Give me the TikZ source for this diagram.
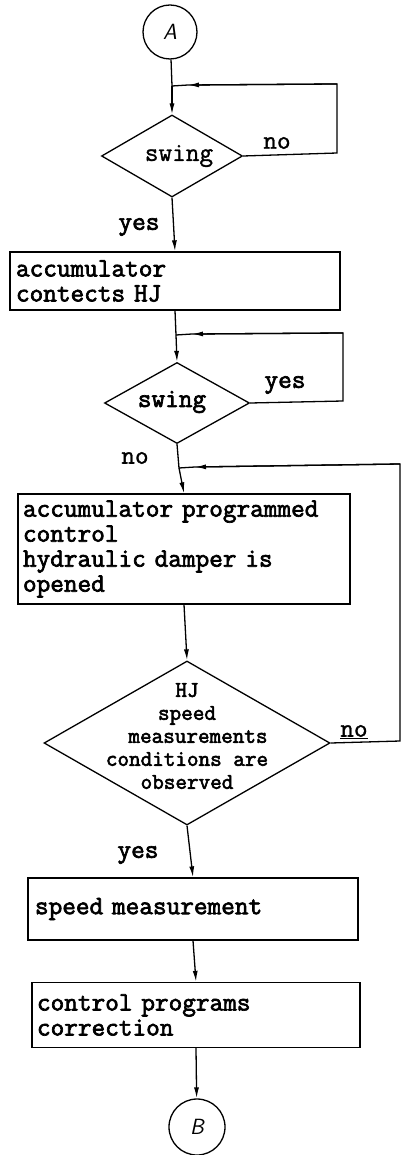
\documentclass[tikz,border=0pt]{standalone}
\usepackage{fontspec}
\newfontfamily\twb{Latin Modern Mono}[FakeBold=2.6,WordSpace={1,0,0}]
\newfontfamily\tw{Latin Modern Mono}[FakeBold=1.2,WordSpace={1,0,0}]
\usetikzlibrary{shapes.geometric,arrows.meta}
\begin{document}
\begin{tikzpicture}[x=1pt,y=-1pt,
  every path/.style={line width=1.3pt},
  tip/.style={-{Latex[length=11pt,width=5pt]}},
  boxnode/.style={draw,rectangle,inner xsep=5pt,inner ysep=0pt,align=left,
    font=\twb\fontsize{26.5}{25}\selectfont},
  dia/.style={draw,diamond,inner sep=0pt},
  dtext/.style={inner sep=0pt,align=center,font=\twb\fontsize{22.5}{23}\selectfont},
  lbl/.style={inner sep=0pt,font=\twb\fontsize{26.5}{25}\selectfont},
  lblr/.style={inner sep=0pt,font=\tw\fontsize{26.5}{25}\selectfont},
  conn/.style={draw,circle,inner sep=0pt,font=\sffamily\itshape\fontsize{22}{24}\selectfont}]
\useasboundingbox (0,0) rectangle (402,1155);

% start connector
\node[conn,minimum size=54pt] (A) at (170,32) {A};
\coordinate (m1) at (172,86);
\node[dia,minimum width=141pt,minimum height=82pt] (d1) at (172,156) {};
\node[lblr] at (179,156) {swing};
\node[lblr] at (277,143) {no};
\node[lbl] at (139,227) {yes};

\node[boxnode,minimum width=330pt,text width=318pt,minimum height=58pt] (b1) at (175,281)
  {accumulator\\contects HJ};

\coordinate (m2) at (176,335);
\node[dia,minimum width=145pt,minimum height=81pt] (d2) at (177,403) {};
\node[lbl] at (172,402) {swing};
\node[lbl] at (285,385) {yes};
\node[lblr] at (135,458) {no};

\coordinate (m3) at (179,468);
\node[boxnode,minimum width=332pt,text width=322pt,minimum height=110pt] (b2) at (184,549)
  {accumulator programmed\\control\\hydraulic damper is\\opened};

\node[dia,minimum width=286pt,minimum height=164pt] (d3) at (187,743) {};
\node[dtext] (d3t) at (187,736)
  {HJ\\speed\\\hspace*{22pt}measurements\\conditions are\\observed};
\node[lblr] at (354,732) {\underline{no}};
\node[lbl] at (138,855) {yes};

\node[boxnode,minimum width=330pt,text width=316pt,minimum height=62pt] (b3) at (193,909)
  {speed measurement};
\node[boxnode,minimum width=328pt,text width=318pt,minimum height=65pt] (b4) at (196,1015)
  {control programs\\correction};

\node[conn,minimum size=56pt] (B) at (197,1127) {B};

% main flow
\draw (A) -- (m1);
\draw[tip] (m1) -- (d1.north);
\draw[tip] (d1.south) -- (b1.north);
\draw (b1.south) -- (m2);
\draw[tip] (m2) -- (d2.north);
\draw (d2.south) -- (m3);
\draw[tip] (m3) -- (b2.north);
\draw[tip] (b2.south) -- (d3.north);
\draw[tip] (d3.south) -- (b3.north);
\draw[tip] (b3.south) -- (b4.north);
\draw[tip] (b4.south) -- (B);

% loops
\coordinate (r1a) at (337,153);
\coordinate (r1b) at (337,84);
\coordinate (a1) at (188,85);
\draw (d1.east) -- (r1a) -- (r1b) -- (a1) -- (m1);
\draw[tip] (r1b) -- (a1);

\coordinate (r2a) at (343,401);
\coordinate (r2b) at (343,333);
\coordinate (a2) at (192,334);
\draw (d2.east) -- (r2a) -- (r2b) -- (a2) -- (m2);
\draw[tip] (r2b) -- (a2);

\coordinate (r3a) at (400,741);
\coordinate (r3b) at (400,464);
\coordinate (a3) at (195,467);
\draw (d3.east) -- (r3a) -- (r3b) -- (a3) -- (m3);
\draw[tip] (r3b) -- (a3);
\end{tikzpicture}
\end{document}
